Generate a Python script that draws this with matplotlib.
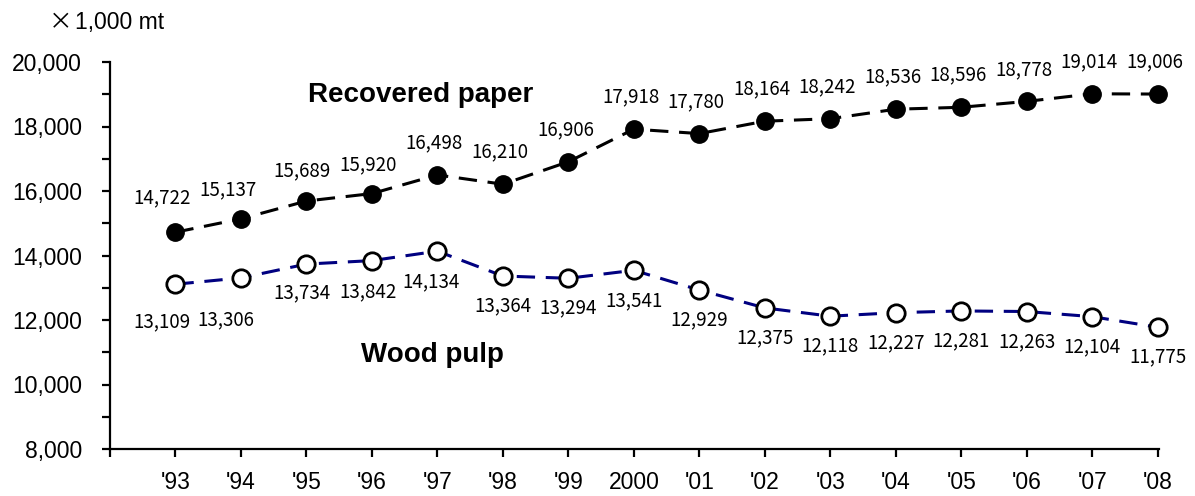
import numpy as np
import matplotlib.pyplot as plt
from matplotlib.ticker import MultipleLocator, FuncFormatter

years = ["'93", "'94", "'95", "'96", "'97", "'98", "'99", "2000",
         "'01", "'02", "'03", "'04", "'05", "'06", "'07", "'08"]
recovered = [14722, 15137, 15689, 15920, 16498, 16210, 16906, 17918,
             17780, 18164, 18242, 18536, 18596, 18778, 19014, 19006]
wood = [13109, 13306, 13734, 13842, 14134, 13364, 13294, 13541,
        12929, 12375, 12118, 12227, 12281, 12263, 12104, 11775]

## label nudges in pixels (dx, dy), Excel-style manual placement
rec_off = [(-13, 34), (-13, 29), (-4, 30), (-4, 29)] + [(-3, 32)] * 12
wood_off = [(-14, -38), (-15, -42), (-4, -29), (-4, -31), (-6, -31)] + [(0, -30)] * 11

lab_font = ['Noto Sans CJK JP', 'DejaVu Sans']
plt.rcParams['font.family'] = ['Liberation Sans', 'DejaVu Sans']

fig = plt.figure(figsize=(11.95, 4.96), dpi=100)
ax = fig.add_axes([110/1195, 1-449/496, 1049/1195, 387/496])

x = np.arange(len(years))
px = 0.72  # points per pixel at 100 dpi

ax.plot(x, recovered, color='black', lw=2.2, dashes=(6, 3.5),
        marker='o', ms=12.5, mfc='black', mec='black', clip_on=False, zorder=3)
ax.plot(x, wood, color='#000080', lw=2.2, dashes=(6, 3.5),
        marker='o', ms=12.5, mfc='white', mec='black', mew=2, clip_on=False, zorder=3)

for i in range(len(x)):
    dx, dy = rec_off[i]
    ax.annotate(f'{recovered[i]:,}', (x[i], recovered[i]), xytext=(dx*px, dy*px),
                textcoords='offset points', ha='center', va='center',
                fontsize=13.5, family=lab_font)
    dx, dy = wood_off[i]
    ax.annotate(f'{wood[i]:,}', (x[i], wood[i]), xytext=(dx*px, dy*px),
                textcoords='offset points', ha='center', va='center',
                fontsize=13.5, family=lab_font)

ax.text(3.74, 18980, 'Recovered paper', fontsize=20, fontweight='bold',
        ha='center', va='center')
ax.text(3.92, 10900, 'Wood pulp', fontsize=20, fontweight='bold',
        ha='center', va='center')

# unit label: full-width times sign + Arial-like text
fig.text(49/1195, 1-23/496, '\u00d7', fontsize=17, ha='left', va='center',
         family=['Noto Sans CJK JP', 'DejaVu Sans'])
fig.text(75/1195, 1-23/496, '1,000 mt', fontsize=16.5, ha='left', va='center')

ax.set_xlim(-1, 15.02)
ax.set_ylim(8000, 20000)
ax.set_xticks(np.arange(-1, 16))
ax.set_xticklabels([''] + years)
ax.yaxis.set_major_locator(MultipleLocator(2000))
ax.yaxis.set_minor_locator(MultipleLocator(1000))
ax.yaxis.set_major_formatter(FuncFormatter(lambda v, p: f'{int(v):,}'))

for s in ['top', 'right']:
    ax.spines[s].set_visible(False)
for s in ['left', 'bottom']:
    ax.spines[s].set_linewidth(1.6)

ax.tick_params(axis='both', which='both', direction='out', length=6, width=1.6)
ax.tick_params(axis='y', which='both', pad=14, labelsize=16.5)
ax.tick_params(axis='x', pad=10, labelsize=16.5)

fig.savefig('out.png', dpi=100)
